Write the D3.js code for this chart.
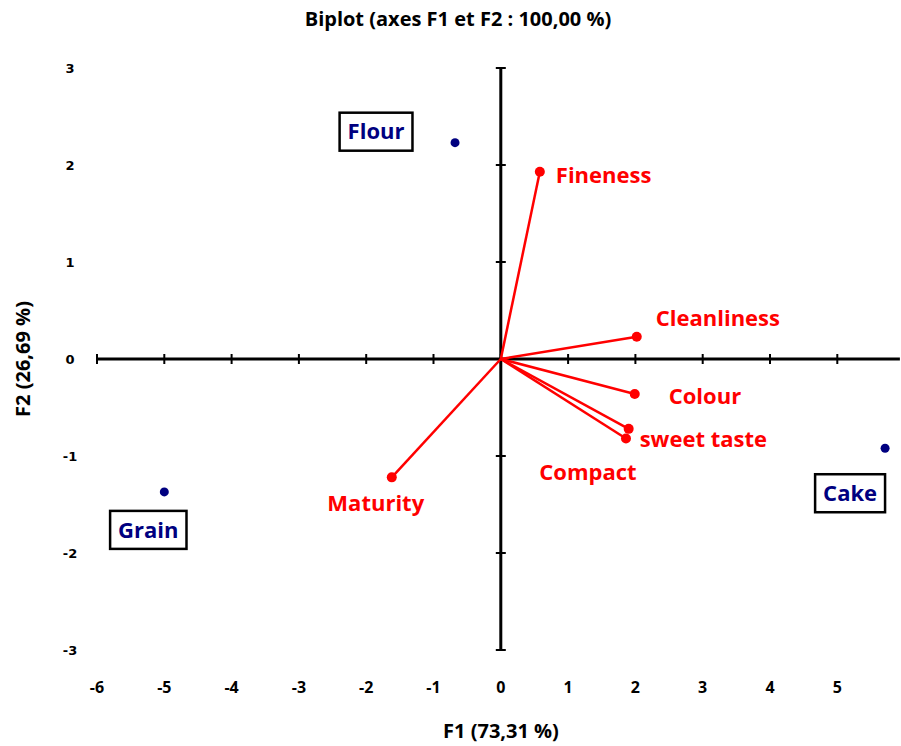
<!DOCTYPE html>
<html>
<head>
<meta charset="utf-8">
<script src="https://cdn.jsdelivr.net/npm/d3@7"></script>
<style>
  body { margin: 0; background: #fff; }
  text { font-family: "Liberation Sans Narrow", "Open Sans", sans-serif; font-weight: bold; }
</style>
</head>
<body>
<script>
var width = 901, height = 746;

// observations (navy points with boxed labels)
var obsNames = ["Flour", "Grain", "Cake"];
var obsF1 = [-0.68, -5.0, 5.71];
var obsF2 = [2.23, -1.37, -0.92];

// variables (red vectors)
var varNames = ["Fineness", "Cleanliness", "Colour", "sweet taste", "Compact", "Maturity"];
var varF1 = [0.58, 2.02, 1.99, 1.90, 1.86, -1.62];
var varF2 = [1.93, 0.23, -0.36, -0.72, -0.82, -1.22];

var xTicks = [-6, -5, -4, -3, -2, -1, 0, 1, 2, 3, 4, 5];
var yTicks = [-3, -2, -1, 0, 1, 2, 3];

// label offsets (pixels) from the point
var varLabelPos = {
  "Fineness": [16, 4, "start"],
  "Cleanliness": [19, -18, "start"],
  "Colour": [34, 2, "start"],
  "sweet taste": [11, 10, "start"],
  "Compact": [-38, 34, "middle"],
  "Maturity": [-16, 26, "middle"]
};
var obsLabelPos = { "Flour": [-79, -11], "Grain": [-16, 38], "Cake": [-35, 45] };

var svg = d3.select("body").append("svg")
    .attr("width", width)
    .attr("height", height);

var x = d3.scaleLinear().domain([-6, 6]).range([97, 904.6]);
var y = d3.scaleLinear().domain([-3, 3]).range([650, 68]);
var xEnd = 5.93;

// title
svg.append("text")
    .attr("x", 458).attr("y", 26)
    .attr("text-anchor", "middle")
    .style("font-size", "20px")
    .text("Biplot (axes F1 et F2 : 100,00 %)");

// axes through the origin
var axes = svg.append("g");
axes.append("line")
    .attr("x1", x(-6)).attr("x2", x(xEnd))
    .attr("y1", y(0)).attr("y2", y(0))
    .attr("stroke", "#000").attr("stroke-width", 3);
axes.append("line")
    .attr("x1", x(0)).attr("x2", x(0))
    .attr("y1", y(3)).attr("y2", y(-3))
    .attr("stroke", "#000").attr("stroke-width", 3);

axes.selectAll(".xt").data(xTicks).enter().append("line")
    .attr("x1", d => x(d)).attr("x2", d => x(d))
    .attr("y1", y(0) - 5).attr("y2", y(0) + 5)
    .attr("stroke", "#000").attr("stroke-width", 2);
axes.selectAll(".yt").data(yTicks).enter().append("line")
    .attr("x1", x(0) - 5).attr("x2", x(0) + 5)
    .attr("y1", d => y(d)).attr("y2", d => y(d))
    .attr("stroke", "#000").attr("stroke-width", 2);

// tick labels: x along the bottom, y along the left
svg.selectAll(".xl").data(xTicks).enter().append("text")
    .attr("x", d => x(d)).attr("y", 693)
    .attr("text-anchor", "middle")
    .style("font-size", "16px")
    .text(d => d);
svg.selectAll(".yl").data(yTicks).enter().append("text")
    .attr("x", 70).attr("y", d => y(d) + 5)
    .attr("text-anchor", "middle")
    .style("font-family", "DejaVu Sans")
    .style("font-size", "13px")
    .text(d => d);

// axis titles
svg.append("text")
    .attr("x", 501).attr("y", 738)
    .attr("text-anchor", "middle")
    .style("font-size", "20px")
    .text("F1 (73,31 %)");
svg.append("text")
    .attr("transform", "translate(30," + y(0) + ") rotate(-90)")
    .attr("text-anchor", "middle")
    .style("font-size", "20px")
    .text("F2 (26,69 %)");

// variable vectors
var vars = varNames.map((n, i) => ({ name: n, f1: varF1[i], f2: varF2[i] }));
var vg = svg.append("g");
vg.selectAll("line").data(vars).enter().append("line")
    .attr("x1", x(0)).attr("y1", y(0))
    .attr("x2", d => x(d.f1)).attr("y2", d => y(d.f2))
    .attr("stroke", "#ff0000").attr("stroke-width", 2.5);
vg.selectAll("circle").data(vars).enter().append("circle")
    .attr("cx", d => x(d.f1)).attr("cy", d => y(d.f2))
    .attr("r", 5).attr("fill", "#ff0000");
vg.selectAll("text").data(vars).enter().append("text")
    .attr("x", d => x(d.f1) + varLabelPos[d.name][0])
    .attr("y", d => y(d.f2) + varLabelPos[d.name][1])
    .attr("dy", "0.35em")
    .attr("text-anchor", d => varLabelPos[d.name][2])
    .attr("fill", "#ff0000")
    .style("font-size", "22px")
    .text(d => d.name);

// observations
var obs = obsNames.map((n, i) => ({ name: n, f1: obsF1[i], f2: obsF2[i] }));
var og = svg.append("g");
og.selectAll("circle").data(obs).enter().append("circle")
    .attr("cx", d => x(d.f1)).attr("cy", d => y(d.f2))
    .attr("r", 4.5).attr("fill", "#000080");

var labels = og.selectAll("g.lab").data(obs).enter().append("g")
    .attr("class", "lab")
    .attr("transform", d => "translate(" + (x(d.f1) + obsLabelPos[d.name][0]) + "," + (y(d.f2) + obsLabelPos[d.name][1]) + ")");
labels.append("text")
    .attr("text-anchor", "middle")
    .attr("dy", "0.35em")
    .attr("fill", "#000080")
    .style("font-size", "22px")
    .text(d => d.name);
labels.insert("rect", "text")
    .each(function(d) {
      var bb = this.parentNode.querySelector("text").getBBox();
      d3.select(this)
        .attr("x", -bb.width / 2 - 8).attr("y", -19)
        .attr("width", bb.width + 16).attr("height", 38);
    })
    .attr("fill", "#fff").attr("stroke", "#000").attr("stroke-width", 2.5);
</script>
</body>
</html>
